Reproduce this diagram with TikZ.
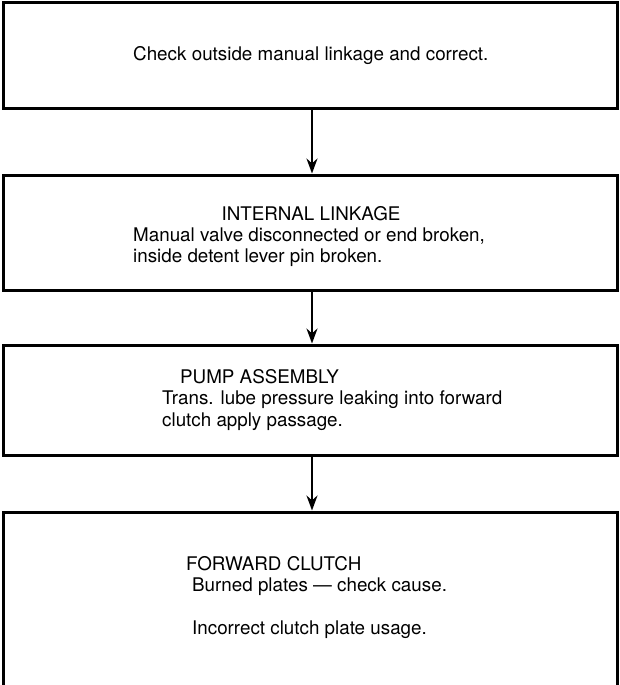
\documentclass[tikz,border=0pt]{standalone}
\usepackage{fontspec}
\setmainfont{TeX Gyre Heros}
\usetikzlibrary{arrows.meta}
\tikzset{>={Stealth[length=15pt,width=11pt]}}
\tikzstyle{chartbox}=[draw=black,line width=3pt,minimum width=614pt,inner sep=0pt]
\tikzstyle{flowline}=[draw=black,line width=2.2pt]
\tikzstyle{boxtext}=[font=\fontsize{18.8}{22}\selectfont,inner sep=0pt]

\begin{document}
\begin{tikzpicture}[x=1pt,y=-1pt]
    \useasboundingbox (0,0) rectangle (620,685);

    \node[chartbox,minimum height=105pt] (outside) at (310,55.5) {};
    \node[chartbox,minimum height=115pt] (internal) at (310,232.5) {};
    \node[chartbox,minimum height=110pt] (pump) at (310,400) {};
    \node[chartbox,minimum height=190pt] (clutch) at (310,607) {};

    \node[boxtext,anchor=base west] (outsidetxt) at (133,61) {Check outside manual linkage and correct.};

    \node[boxtext,anchor=base] (internalhd) at (311,220) {INTERNAL LINKAGE};
    \node[boxtext,anchor=base west] (internala) at (133,241) {Manual valve disconnected or end broken,};
    \node[boxtext,anchor=base west] (internalb) at (133,262) {inside detent lever pin broken.};

    \node[boxtext,anchor=base west] (pumphd) at (180,383) {PUMP ASSEMBLY};
    \node[boxtext,anchor=base west] (pumpa) at (162,404) {Trans. lube pressure leaking into forward};
    \node[boxtext,anchor=base west] (pumpb) at (162,426) {clutch apply passage.};

    \node[boxtext,anchor=base west] (clutchhd) at (186,570) {FORWARD CLUTCH};
    \node[boxtext,anchor=base west] (clutcha) at (192,591) {Burned plates --- check cause.};
    \node[boxtext,anchor=base west] (clutchb) at (192,634) {Incorrect clutch plate usage.};

    \draw[flowline,->] ([xshift=2pt]outside.south) -- ([xshift=2pt]internal.north);
    \draw[flowline,->] ([xshift=2pt]internal.south) -- ([xshift=2pt]pump.north);
    \draw[flowline,->] ([xshift=2pt]pump.south) -- ([xshift=2pt]clutch.north);
\end{tikzpicture}
\end{document}
